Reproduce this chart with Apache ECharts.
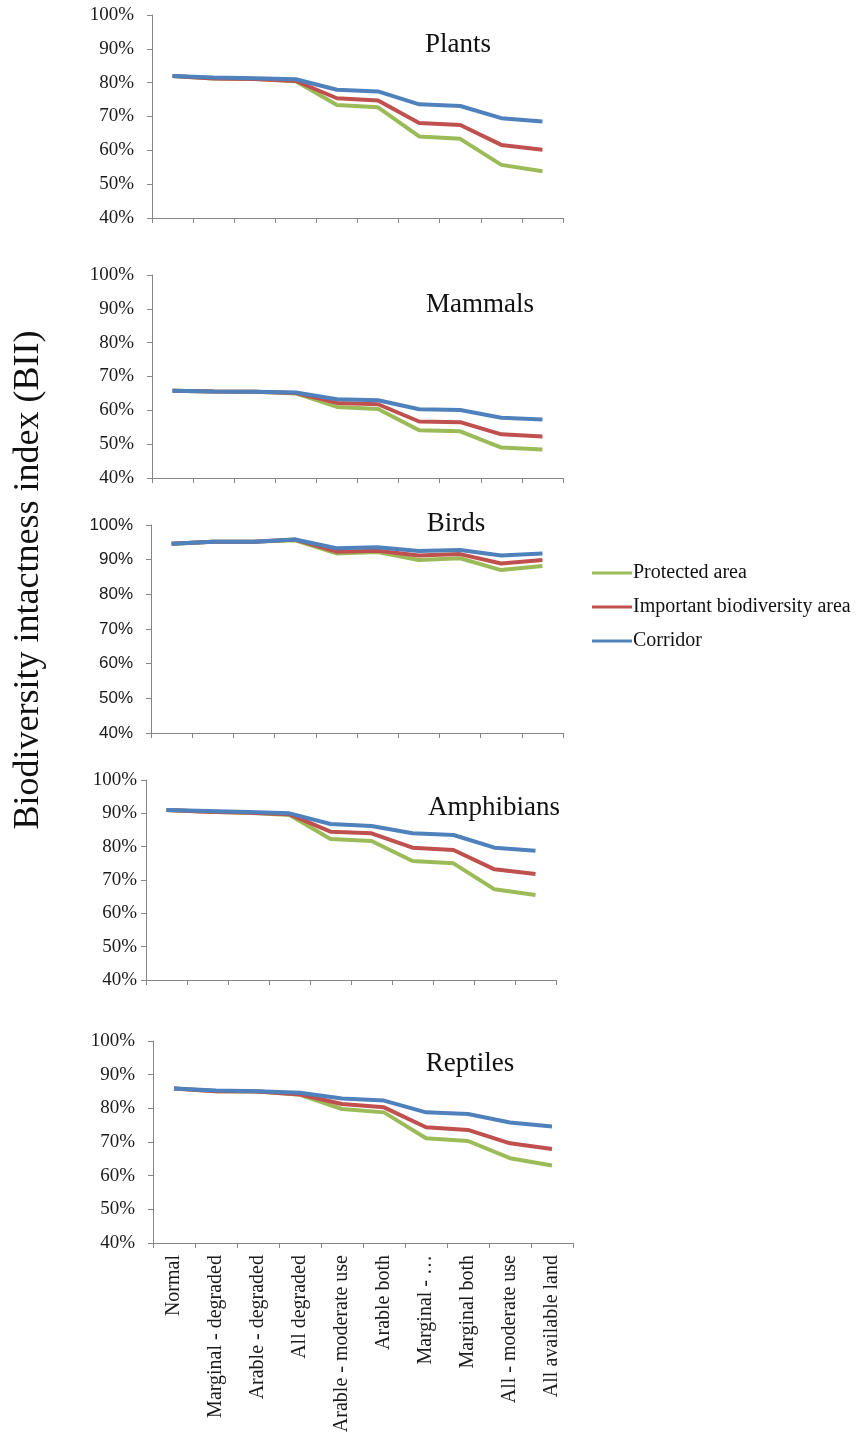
<!DOCTYPE html>
<html>
<head>
<meta charset="utf-8">
<script src="https://cdn.jsdelivr.net/npm/echarts@6/dist/echarts.min.js"></script>
<style>
html,body{margin:0;padding:0;background:#fff;}
#chart{width:863px;height:1439px;}
</style>
</head>
<body>
<div id="chart"></div>
<script>
const categories = ['Normal','Marginal - degraded','Arable - degraded','All degraded','Arable - moderate use','Arable both','Marginal - …','Marginal both','All - moderate use','All available land'];
const seriesNames = ['Protected area','Important biodiversity area','Corridor'];
const panelTitles = ['Plants','Mammals','Birds','Amphibians','Reptiles'];
const yTicks = [40,50,60,70,80,90,100];

const plantsProtected = [82.0, 81.2, 81.1, 80.4, 73.4, 72.7, 64.1, 63.4, 55.7, 53.8];
const plantsImportant = [82.0, 81.2, 81.1, 80.5, 75.4, 74.7, 68.1, 67.5, 61.6, 60.2];
const plantsCorridor  = [82.0, 81.5, 81.3, 81.0, 77.9, 77.4, 73.6, 73.1, 69.5, 68.5];

const mammalsProtected = [65.8, 65.6, 65.5, 65.0, 61.0, 60.4, 54.1, 53.8, 49.0, 48.4];
const mammalsImportant = [65.8, 65.6, 65.5, 65.1, 62.2, 61.8, 56.7, 56.5, 52.9, 52.3];
const mammalsCorridor  = [65.8, 65.6, 65.5, 65.3, 63.3, 63.0, 60.3, 60.1, 57.8, 57.3];

const birdsProtected = [94.6, 95.2, 95.2, 95.6, 91.8, 92.2, 89.9, 90.4, 87.0, 88.2];
const birdsImportant = [94.6, 95.2, 95.2, 95.8, 92.3, 92.6, 91.2, 91.6, 88.9, 89.9];
const birdsCorridor  = [94.6, 95.2, 95.2, 95.8, 93.3, 93.6, 92.5, 92.8, 91.2, 91.8];

const amphibiansProtected = [91.0, 90.5, 90.2, 89.5, 82.3, 81.7, 75.7, 75.0, 67.2, 65.5];
const amphibiansImportant = [91.0, 90.5, 90.2, 89.7, 84.5, 84.0, 79.7, 79.0, 73.2, 71.8];
const amphibiansCorridor  = [91.0, 90.7, 90.4, 90.0, 86.8, 86.2, 84.0, 83.5, 79.7, 78.8];

const reptilesProtected = [85.9, 85.1, 85.0, 84.0, 79.8, 78.8, 71.1, 70.3, 65.2, 63.0];
const reptilesImportant = [85.9, 85.1, 85.0, 84.1, 81.3, 80.3, 74.4, 73.6, 69.6, 67.9];
const reptilesCorridor  = [85.9, 85.3, 85.1, 84.6, 82.9, 82.3, 78.8, 78.3, 75.8, 74.6];

const panelData = [
  [plantsProtected, plantsImportant, plantsCorridor],
  [mammalsProtected, mammalsImportant, mammalsCorridor],
  [birdsProtected, birdsImportant, birdsCorridor],
  [amphibiansProtected, amphibiansImportant, amphibiansCorridor],
  [reptilesProtected, reptilesImportant, reptilesCorridor]
];

const colors = ['#9BBB59','#C0504D','#4F81BD'];
const serif = 'Liberation Serif';
const axisColor = '#868686';

const grids = [
  {left:152, top:15,   width:411, height:203},
  {left:152, top:275,  width:411, height:203},
  {left:151, top:525,  width:412, height:208},
  {left:146, top:780,  width:410, height:200},
  {left:153, top:1041, width:420, height:202}
];
const titlePos = [
  {x:458, y:45}, {x:480, y:305}, {x:456, y:524}, {x:494, y:808}, {x:470, y:1064}
];
const labelMargins = [18, 18, 18, 9, 18];

const xAxes = [], yAxes = [], series = [], titles = [];
grids.forEach((g, i) => {
  const last = i === grids.length - 1;
  xAxes.push({
    type:'category', gridIndex:i, data:categories, boundaryGap:true,
    axisLine:{show:true, lineStyle:{color:axisColor, width:1}},
    axisTick:{show:true, length:5, lineStyle:{color:axisColor}},
    axisLabel:{show:last, rotate:90, interval:0, margin:12, fontFamily:serif, fontSize:20, color:'#1a1a1a'},
    splitLine:{show:false}
  });
  yAxes.push({
    type:'value', gridIndex:i, min:yTicks[0], max:yTicks[yTicks.length-1], interval:10,
    axisLine:{show:true, lineStyle:{color:axisColor, width:1}},
    axisTick:{show:true, length:5, lineStyle:{color:axisColor}},
    axisLabel:{margin:labelMargins[i], formatter:'{value}%', fontFamily: i===2 ? 'Liberation Sans' : serif, fontSize: i===2 ? 17 : 19, color:'#1a1a1a'},
    splitLine:{show:false}
  });
  panelData[i].forEach((vals, k) => {
    series.push({
      name:seriesNames[k], type:'line', xAxisIndex:i, yAxisIndex:i, data:vals,
      symbol:'none', lineStyle:{width:4, color:colors[k]}, itemStyle:{color:colors[k]},
      z:2+k, animation:false
    });
  });
  titles.push({
    text:panelTitles[i], left:titlePos[i].x, top:titlePos[i].y, padding:0,
    textAlign:'center', textVerticalAlign:'middle',
    textStyle:{fontFamily:serif, fontSize:27, fontWeight:'normal', color:'#111'}
  });
});

const chart = echarts.init(document.getElementById('chart'));
chart.setOption({
  backgroundColor:'#fff',
  animation:false,
  title:titles,
  grid:grids,
  xAxis:xAxes,
  yAxis:yAxes,
  legend:{
    orient:'vertical', left:592, top:563, padding:0,
    icon:'rect', itemWidth:40, itemHeight:3, itemGap:14,
    data:seriesNames,
    textStyle:{fontFamily:serif, fontSize:20, lineHeight:20, color:'#111', padding:[0,0,0,-4]}
  },
  graphic:[{
    type:'text', x:29, y:580, rotation:Math.PI/2,
    style:{text:'Biodiversity intactness index (BII)', fontFamily:serif, fontSize:36, fill:'#111', textAlign:'center', textVerticalAlign:'middle'}
  }],
  series:series
});
</script>
</body>
</html>
